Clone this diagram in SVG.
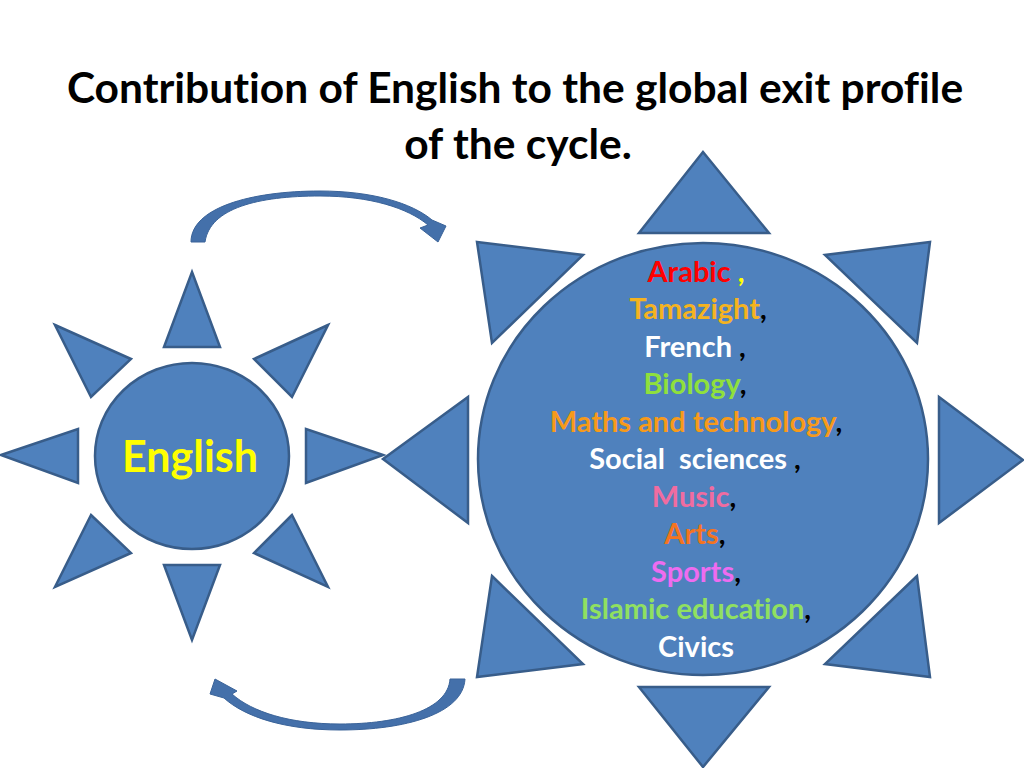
<svg xmlns="http://www.w3.org/2000/svg" width="1024" height="768" viewBox="0 0 1024 768">
<defs>
<style>
.shape{fill:#4f81bd;stroke:#385d8a;stroke-width:2.5;stroke-linejoin:miter}
.arrow{fill:#4470aa;stroke:#3a6399;stroke-width:1}
text{font-variant-ligatures:none;font-feature-settings:"liga" 0}
.title{font-family:Lato,"Open Sans","Liberation Sans",sans-serif;font-weight:bold;font-size:42.5px;fill:#000;text-anchor:middle}
.list{font-family:Lato,"Open Sans","Liberation Sans",sans-serif;font-weight:bold;font-size:29px;text-anchor:middle;white-space:pre}
.k{fill:#000}
</style>
</defs>
<rect width="1024" height="768" fill="#fff"/>
<g id="title">
<text class="title" x="515" y="103">Contribution of English to the global exit profile</text>
<text class="title" x="518" y="159">of the cycle.</text>
</g>
<g id="english-node">
<ellipse class="shape" cx="192" cy="456" rx="97" ry="93"/>
<polygon class="shape" points="192,272 220,347 164,347"/>
<polygon class="shape" points="55,325 131,359 91,397"/>
<polygon class="shape" points="328,325 254,359 292,397"/>
<polygon class="shape" points="1,455 78,429 78,483"/>
<polygon class="shape" points="383,455 306,429 306,483"/>
<polygon class="shape" points="91,515 131,553 55,587"/>
<polygon class="shape" points="292,515 254,553 328,587"/>
<polygon class="shape" points="164,565 220,565 192,640"/>
<text x="190" y="472" style="font-family:Lato,'Open Sans','Liberation Sans',sans-serif;font-weight:bold;font-size:43px;fill:#ffff00;text-anchor:middle">English</text>
</g>
<g id="subjects-node">
<ellipse class="shape" cx="703" cy="459" rx="225" ry="216"/>
<polygon class="shape" points="703,152 769,233 639,233"/>
<polygon class="shape" points="477,242 583,255 492,343"/>
<polygon class="shape" points="930,242 825,255 917,343"/>
<polygon class="shape" points="383,459 468,397 468,523"/>
<polygon class="shape" points="1023,460 939,397 939,523"/>
<polygon class="shape" points="492,576 583,664 477,677"/>
<polygon class="shape" points="917,576 825,664 930,677"/>
<polygon class="shape" points="639,687 769,687 703,767"/>
<text class="list" x="696" y="282"><tspan fill="#ff0000">Arabic </tspan><tspan fill="#ffff00">,</tspan></text>
<text class="list" x="698" y="319"><tspan fill="#f5b320">Tamazight</tspan><tspan class="k">,</tspan></text>
<text class="list" x="695" y="357"><tspan fill="#ffffff">French </tspan><tspan class="k">,</tspan></text>
<text class="list" x="695" y="394"><tspan fill="#8fe03c">Biology</tspan><tspan class="k">,</tspan></text>
<text class="list" x="696" y="432"><tspan fill="#f79a1a">Maths and technology</tspan><tspan class="k">,</tspan></text>
<text class="list" x="695" y="469" xml:space="preserve"><tspan fill="#ffffff">Social  sciences </tspan><tspan class="k">,</tspan></text>
<text class="list" x="694" y="507"><tspan fill="#f06ca0">Music</tspan><tspan class="k">,</tspan></text>
<text class="list" x="695" y="544"><tspan fill="#f47420">Arts</tspan><tspan class="k">,</tspan></text>
<text class="list" x="696" y="582"><tspan fill="#ee6cf0">Sports</tspan><tspan class="k">,</tspan></text>
<text class="list" x="696" y="619"><tspan fill="#90e060">Islamic education</tspan><tspan class="k">,</tspan></text>
<text class="list" x="696" y="657"><tspan fill="#ffffff">Civics</tspan></text>
</g>
<g id="connectors">
<path class="arrow" d="M191,242 C191,208 250,191 320,191 C372,191 412,203 432,220 L446,226 L438,242 L420,228 L428,225 C408,208 370,196 320,196 C258,196 210,208 205,242 Z"/>
<path class="arrow" d="M465,679 C463,714 405,730 340,730 C285,730 245,717 224,698 L210,694 L215,679 L237,691 L232,694 C252,712 290,724 340,724 C398,724 448,710 450,679 Z"/>
</g>
</svg>
